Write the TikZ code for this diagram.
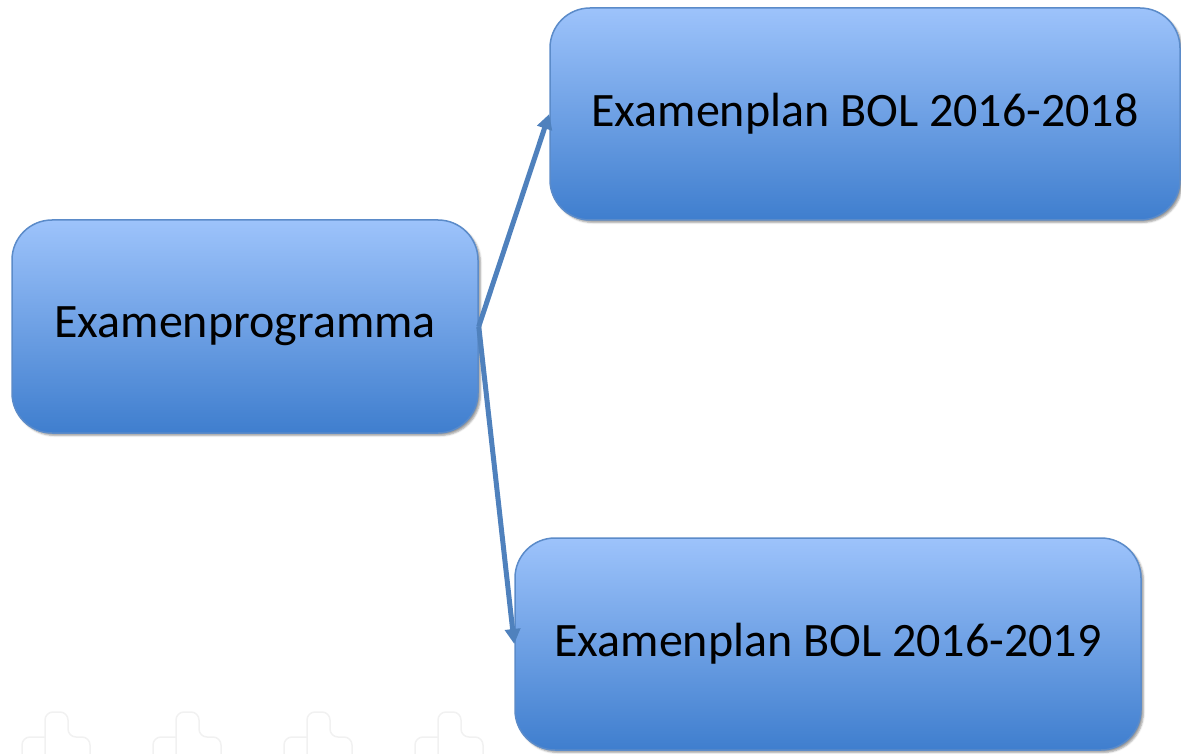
\documentclass[tikz,border=0pt]{standalone}
\usepackage{fontspec}
\setmainfont{Carlito}
\usepackage{tikz}
\usetikzlibrary{arrows.meta}
\usetikzlibrary{shadows.blur}
\definecolor{boxtop}{HTML}{9DC3FB}
\definecolor{boxbot}{HTML}{3F7ECE}
\definecolor{boxline}{HTML}{5B8BC9}
\definecolor{arrowblue}{HTML}{4F81BD}
\definecolor{crossgray}{HTML}{F1F1F1}
\begin{document}
\begin{tikzpicture}[x=1pt,y=-1pt,
  plan/.style = {rectangle,draw=boxline,line width=1.5pt,rounded corners=40pt,
        top color=boxtop,bottom color=boxbot,blur shadow,
        font=\fontsize{48}{58}\selectfont,align=center,inner sep=0pt},
  cross/.style = {draw=crossgray,line width=1.5pt,rounded corners=8pt}
]
 \useasboundingbox (0,0) rectangle (1181,754);
 % watermark crosses
 \foreach \cx in {56,187,318,449}
   \draw[cross] (\cx-11,760) -- (\cx-11,712) -- (\cx+12,712) -- (\cx+12,737)
     -- (\cx+34,737) -- (\cx+34,760);
 \foreach \cx in {56,187,318,449}
   \draw[cross] (\cx-11,737) -- (\cx-34,737) -- (\cx-34,760);
 \node[plan,minimum width=466pt,minimum height=213pt] (prog) at (245,326.5) {Examenprogramma};
 \node[plan,minimum width=630pt,minimum height=212pt] (plan1) at (865,114) {Examenplan BOL 2016-2018};
 \node[plan,minimum width=626pt,minimum height=212pt] (plan2) at (828,644) {Examenplan BOL 2016-2019};
 \begin{scope}[arrowblue,line width=5pt,-{Triangle[length=15pt,width=15pt]}]
  \draw (prog.east) -- (plan1.west);
  \draw (prog.east) -- (plan2.west);
 \end{scope}
\end{tikzpicture}
\end{document}
